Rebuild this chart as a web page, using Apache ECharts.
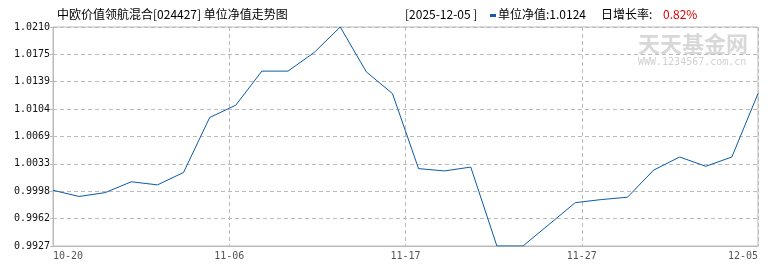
<!DOCTYPE html>
<html><head><meta charset="utf-8">
<script src="https://cdn.jsdelivr.net/npm/echarts@6/dist/echarts.min.js"></script>
<style>html,body{margin:0;padding:0;background:#fff}#c{width:770px;height:270px}</style>
</head><body><div id="c"></div>
<script>
const fundTitle = '中欧价值领航混合[024427] 单位净值走势图';
const dates = ['10-20','10-24','10-31','11-03','11-04','11-05','11-06','11-07','11-10','11-11','11-12','11-13','11-14','11-17','11-18','11-19','11-20','11-21','11-24','11-25','11-26','11-27','11-28','12-01','12-02','12-03','12-04','12-05'];
const navValues = [0.9999,0.9991,0.9996,1.0010,1.0006,1.0022,1.0093,1.0109,1.0153,1.0153,1.0177,1.0210,1.0152,1.0124,1.0027,1.0024,1.0029,0.9927,0.9927,0.9955,0.9983,0.9987,0.9990,1.0025,1.0042,1.0030,1.0042,1.0124];
const xTickLabels = ['10-20','11-06','11-17','11-27','12-05'];
const yTickLabels = ['0.9927','0.9962','0.9998','1.0033','1.0069','1.0104','1.0139','1.0175','1.0210'];
const lastDate = '2025-12-05';

const FONT = '"Noto Sans CJK SC", sans-serif';
const MONO = '"DejaVu Sans Mono", monospace';
const yMin = Math.min(...navValues), yMax = Math.max(...navValues);
const ySteps = yTickLabels.length - 1;
const yStep = (yMax - yMin) / ySteps;
const yTicks = yTickLabels.map((_, i) => yMin + i * yStep);
const xMax = navValues.length - 1;
const xStep = xMax / (xTickLabels.length - 1);
const lastVal = navValues[navValues.length - 1];
const prevVal = navValues[navValues.length - 2];
const growth = ((lastVal / prevVal - 1) * 100).toFixed(2) + '%';

const chart = echarts.init(document.getElementById('c'), null, {renderer: 'canvas'});
const dash = {color: '#bbb', type: [4, 3], width: 1};
chart.setOption({
  animation: false,
  backgroundColor: '#fff',
  grid: {left: 53, right: 12, top: 27, bottom: 24, show: true, borderColor: '#bbb', borderWidth: 1},
  xAxis: {
    type: 'value', min: 0, max: xMax, interval: xStep,
    axisLine: {show: true, lineStyle: {color: '#bbb'}},
    axisTick: {show: false},
    splitLine: {show: true, lineStyle: dash},
    axisLabel: {
      color: '#555', fontSize: 10, fontFamily: MONO, margin: 5,
      alignMinLabel: 'left', alignMaxLabel: 'right',
      formatter: v => xTickLabels[Math.round(v / xStep)]
    }
  },
  yAxis: {
    type: 'value', min: yMin, max: yMax,
    axisLine: {show: true, lineStyle: {color: '#bbb'}},
    axisTick: {show: true, length: 3, lineStyle: {color: '#bbb'}, customValues: yTicks},
    splitLine: {show: true, lineStyle: dash},
    axisLabel: {
      color: '#111', fontSize: 10, fontFamily: MONO, margin: 3,
      customValues: yTicks,
      formatter: v => yTickLabels[Math.round((v - yMin) / yStep)]
    }
  },
  series: [{
    type: 'line',
    data: navValues.map((v, i) => [i, v]),
    symbol: 'none',
    lineStyle: {color: '#0c5aa6', width: 1},
    z: 5
  }],
  graphic: [
    {type: 'text', left: 57, top: 8, style: {text: fundTitle, fill: '#000', font: '12px ' + FONT}},
    {type: 'text', left: 405, top: 8, style: {text: '[' + lastDate + ' ]', fill: '#000', font: '12px ' + FONT}},
    {type: 'rect', shape: {x: 490, y: 14, width: 6, height: 3}, style: {fill: '#1a5aa8'}},
    {type: 'text', left: 498, top: 8, style: {text: '单位净值:' + lastVal.toFixed(4), fill: '#000', font: '12px ' + FONT}},
    {type: 'text', left: 601, top: 8, style: {text: '日增长率:', fill: '#000', font: '12px ' + FONT}},
    {type: 'text', left: 663, top: 8, style: {text: growth, fill: '#e00000', font: '12px ' + FONT}},
    {type: 'text', left: 638, top: 33, z: 0, style: {text: '天天基金网', fill: '#d8d8d8', font: 'bold 22px ' + FONT}},
    {type: 'text', left: 638, top: 57, z: 0, style: {text: 'WWW.1234567.com.cn', fill: '#d0d0d0', font: '10px "DejaVu Sans Mono", monospace'}}
  ]
});
</script>
</body></html>
